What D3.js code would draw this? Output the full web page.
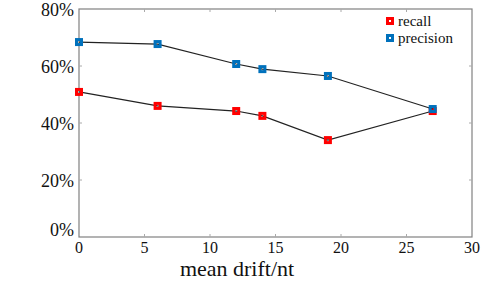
<!DOCTYPE html>
<html>
<head>
<meta charset="utf-8">
<script src="https://cdnjs.cloudflare.com/ajax/libs/d3/7.8.5/d3.min.js"></script>
<style>
  body { margin: 0; background: #fff; }
  text { font-family: "Liberation Serif", "DejaVu Serif", serif; fill: #111; }
</style>
</head>
<body>
<svg id="chart"></svg>
<script>
var width = 484;
var height = 286;

var drift = [0, 6, 12, 14, 19, 27];
var recall = [50.9, 46.0, 44.2, 42.5, 34.0, 44.2];
var precision = [68.4, 67.7, 60.7, 58.9, 56.5, 44.9];
var xTicks = [0, 5, 10, 15, 20, 25, 30];
var yTicks = [0, 20, 40, 60, 80];

var series = [
  { name: "recall", values: recall, color: "#ff0000" },
  { name: "precision", values: precision, color: "#0071bc" }
];

var margin = { top: 9, right: 12, bottom: 49, left: 79 };

var x = d3.scaleLinear().domain([0, 30]).range([margin.left, width - margin.right]);
var y = d3.scaleLinear().domain([0, 80]).range([height - margin.bottom, margin.top]);

var svg = d3.select("#chart")
    .attr("width", width)
    .attr("height", height);

// frame
svg.append("rect")
  .attr("x", x(0))
  .attr("y", y(80))
  .attr("width", x(30) - x(0))
  .attr("height", y(0) - y(80))
  .attr("fill", "none")
  .attr("stroke", "#808080")
  .attr("stroke-width", 1.2);

// inward ticks
var tickLen = 3;
svg.selectAll(".xt")
  .data(xTicks.slice(1, -1))
  .enter().append("path")
  .attr("d", function(d) {
    return "M" + x(d) + "," + y(0) + "v" + (-tickLen) + "M" + x(d) + "," + y(80) + "v" + tickLen;
  })
  .attr("stroke", "#aaa")
  .attr("stroke-width", 1);

svg.selectAll(".yt")
  .data(yTicks.slice(1, -1))
  .enter().append("path")
  .attr("d", function(d) {
    return "M" + x(0) + "," + y(d) + "h" + tickLen + "M" + x(30) + "," + y(d) + "h" + (-tickLen);
  })
  .attr("stroke", "#aaa")
  .attr("stroke-width", 1);

// tick labels
svg.selectAll(".xl")
  .data(xTicks)
  .enter().append("text")
  .attr("x", function(d) { return x(d); })
  .attr("y", y(0) + 16)
  .attr("text-anchor", "middle")
  .style("font-size", "16px")
  .text(function(d) { return d; });

svg.selectAll(".yl")
  .data(yTicks)
  .enter().append("text")
  .attr("x", x(0) - 5)
  .attr("y", function(d) { return d === 0 ? y(d) - 7 : y(d) + 1; })
  .attr("dy", "0.35em")
  .attr("text-anchor", "end")
  .style("font-size", "18px")
  .text(function(d) { return d + "%"; });

svg.append("text")
  .attr("x", 237)
  .attr("y", 276)
  .attr("text-anchor", "middle")
  .style("font-size", "22px")
  .text("mean drift/nt");

var line = d3.line()
  .x(function(d, i) { return x(drift[i]); })
  .y(function(d) { return y(d); });

series.forEach(function(s) {
  svg.append("path")
    .attr("d", line(s.values))
    .attr("fill", "none")
    .attr("stroke", "#222")
    .attr("stroke-width", 1.2);

  svg.selectAll(null)
    .data(s.values)
    .enter().append("rect")
    .attr("x", function(d, i) { return x(drift[i]) - 2.5; })
    .attr("y", function(d) { return y(d) - 2.5; })
    .attr("width", 5)
    .attr("height", 5)
    .attr("fill", "none")
    .attr("stroke", s.color)
    .attr("stroke-width", 3);
});

// legend
var legend = svg.append("g").attr("transform", "translate(390,21)");
series.forEach(function(s, i) {
  var g = legend.append("g").attr("transform", "translate(0," + (i * 17) + ")");
  g.append("rect")
    .attr("x", -2.5).attr("y", -2.5)
    .attr("width", 5).attr("height", 5)
    .attr("fill", "#fff")
    .attr("stroke", s.color)
    .attr("stroke-width", 3);
  g.append("text")
    .attr("x", 8)
    .attr("dy", "0.32em")
    .style("font-size", "15px")
    .text(s.name);
});
</script>
</body>
</html>
